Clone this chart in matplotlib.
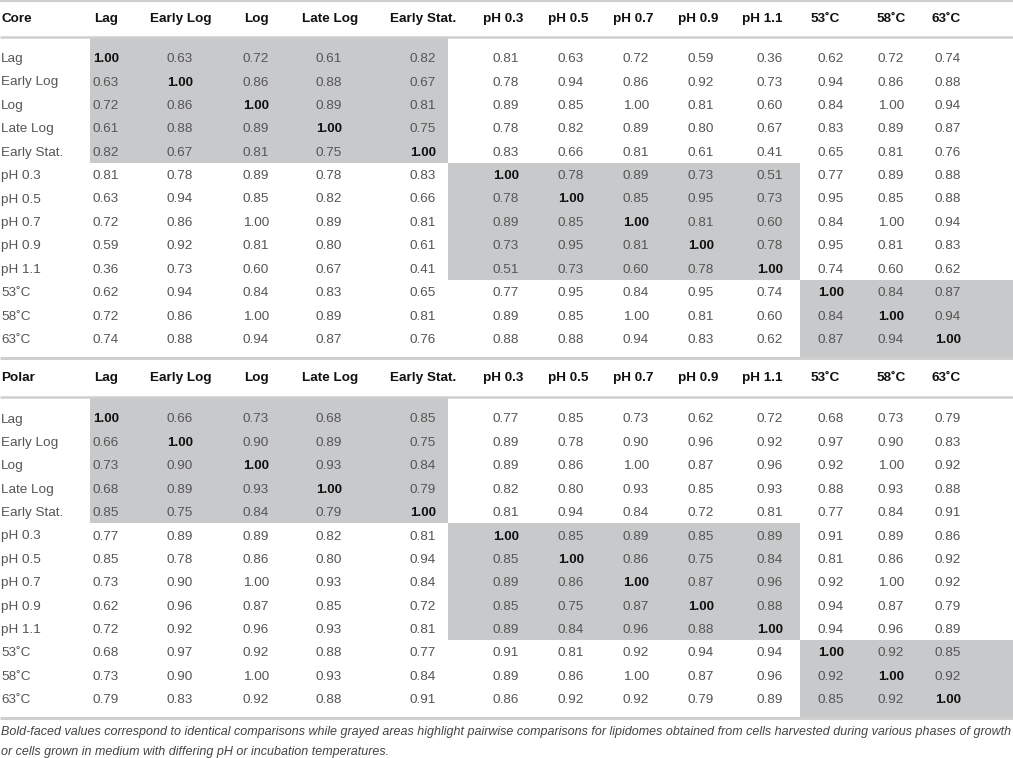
import matplotlib
matplotlib.use("Agg")
import matplotlib.pyplot as plt
from matplotlib.patches import Rectangle

# Table content
row_labels = ["Lag", "Early Log", "Log", "Late Log", "Early Stat.",
              "pH 0.3", "pH 0.5", "pH 0.7", "pH 0.9", "pH 1.1",
              "53˚C", "58˚C", "63˚C"]
col_labels = row_labels
groups = [(0, 5), (5, 10), (10, 13)]

core_values = [
    [1.00, 0.63, 0.72, 0.61, 0.82, 0.81, 0.63, 0.72, 0.59, 0.36, 0.62, 0.72, 0.74],
    [0.63, 1.00, 0.86, 0.88, 0.67, 0.78, 0.94, 0.86, 0.92, 0.73, 0.94, 0.86, 0.88],
    [0.72, 0.86, 1.00, 0.89, 0.81, 0.89, 0.85, 1.00, 0.81, 0.60, 0.84, 1.00, 0.94],
    [0.61, 0.88, 0.89, 1.00, 0.75, 0.78, 0.82, 0.89, 0.80, 0.67, 0.83, 0.89, 0.87],
    [0.82, 0.67, 0.81, 0.75, 1.00, 0.83, 0.66, 0.81, 0.61, 0.41, 0.65, 0.81, 0.76],
    [0.81, 0.78, 0.89, 0.78, 0.83, 1.00, 0.78, 0.89, 0.73, 0.51, 0.77, 0.89, 0.88],
    [0.63, 0.94, 0.85, 0.82, 0.66, 0.78, 1.00, 0.85, 0.95, 0.73, 0.95, 0.85, 0.88],
    [0.72, 0.86, 1.00, 0.89, 0.81, 0.89, 0.85, 1.00, 0.81, 0.60, 0.84, 1.00, 0.94],
    [0.59, 0.92, 0.81, 0.80, 0.61, 0.73, 0.95, 0.81, 1.00, 0.78, 0.95, 0.81, 0.83],
    [0.36, 0.73, 0.60, 0.67, 0.41, 0.51, 0.73, 0.60, 0.78, 1.00, 0.74, 0.60, 0.62],
    [0.62, 0.94, 0.84, 0.83, 0.65, 0.77, 0.95, 0.84, 0.95, 0.74, 1.00, 0.84, 0.87],
    [0.72, 0.86, 1.00, 0.89, 0.81, 0.89, 0.85, 1.00, 0.81, 0.60, 0.84, 1.00, 0.94],
    [0.74, 0.88, 0.94, 0.87, 0.76, 0.88, 0.88, 0.94, 0.83, 0.62, 0.87, 0.94, 1.00],
]

polar_values = [
    [1.00, 0.66, 0.73, 0.68, 0.85, 0.77, 0.85, 0.73, 0.62, 0.72, 0.68, 0.73, 0.79],
    [0.66, 1.00, 0.90, 0.89, 0.75, 0.89, 0.78, 0.90, 0.96, 0.92, 0.97, 0.90, 0.83],
    [0.73, 0.90, 1.00, 0.93, 0.84, 0.89, 0.86, 1.00, 0.87, 0.96, 0.92, 1.00, 0.92],
    [0.68, 0.89, 0.93, 1.00, 0.79, 0.82, 0.80, 0.93, 0.85, 0.93, 0.88, 0.93, 0.88],
    [0.85, 0.75, 0.84, 0.79, 1.00, 0.81, 0.94, 0.84, 0.72, 0.81, 0.77, 0.84, 0.91],
    [0.77, 0.89, 0.89, 0.82, 0.81, 1.00, 0.85, 0.89, 0.85, 0.89, 0.91, 0.89, 0.86],
    [0.85, 0.78, 0.86, 0.80, 0.94, 0.85, 1.00, 0.86, 0.75, 0.84, 0.81, 0.86, 0.92],
    [0.73, 0.90, 1.00, 0.93, 0.84, 0.89, 0.86, 1.00, 0.87, 0.96, 0.92, 1.00, 0.92],
    [0.62, 0.96, 0.87, 0.85, 0.72, 0.85, 0.75, 0.87, 1.00, 0.88, 0.94, 0.87, 0.79],
    [0.72, 0.92, 0.96, 0.93, 0.81, 0.89, 0.84, 0.96, 0.88, 1.00, 0.94, 0.96, 0.89],
    [0.68, 0.97, 0.92, 0.88, 0.77, 0.91, 0.81, 0.92, 0.94, 0.94, 1.00, 0.92, 0.85],
    [0.73, 0.90, 1.00, 0.93, 0.84, 0.89, 0.86, 1.00, 0.87, 0.96, 0.92, 1.00, 0.92],
    [0.79, 0.83, 0.92, 0.88, 0.91, 0.86, 0.92, 0.92, 0.79, 0.89, 0.85, 0.92, 1.00],
]

caption_lines = [
    "Bold-faced values correspond to identical comparisons while grayed areas highlight "
    "pairwise comparisons for lipidomes obtained from cells harvested during various phases of growth",
    "or cells grown in medium with differing pH or incubation temperatures.",
]

# Layout (pixel coordinates)
W, H = 1013, 758
val_x = [106, 180, 256, 329, 423, 506, 571, 636, 701, 770, 831, 891, 948]
head_x = [106, 181, 256, 330, 423, 503, 568, 633, 698, 762, 825, 891, 946]
block_x = [90, 448, 800, W]
row_h = 23.4
FONT = "Liberation Sans"
FS = 9.7
TXT = "#555555"
GRAY = "#c8c9cb"
LINE = "#cfcfcf"

fig = plt.figure(figsize=(W / 100, H / 100), dpi=100)
ax = fig.add_axes([0, 0, 1, 1])
ax.set_xlim(0, W)
ax.set_ylim(H, 0)
ax.axis("off")


def draw_section(title, values, head_y, under_y, first_row_y, bottom_y):
    # gray diagonal blocks
    for k, (a, b) in enumerate(groups):
        top = under_y + 1 if a == 0 else first_row_y + a * row_h - row_h / 2
        bot = bottom_y if b == len(row_labels) else first_row_y + b * row_h - row_h / 2
        ax.add_patch(Rectangle((block_x[k], top), block_x[k + 1] - block_x[k], bot - top,
                               facecolor=GRAY, edgecolor="none", zorder=0))

    # header
    ax.text(1, head_y + 4.8, title, fontsize=FS, fontweight="bold", family=FONT,
            color="#111111", ha="left", va="baseline")
    for j, lab in enumerate(col_labels):
        ax.text(head_x[j], head_y + 4.8, lab, fontsize=FS, fontweight="bold", family=FONT,
                color="#111111", ha="center", va="baseline")
    ax.plot([0, W], [under_y, under_y], color=LINE, lw=1.8, solid_capstyle="butt", zorder=1)

    # body
    for i, lab in enumerate(row_labels):
        y = first_row_y + i * row_h + 4.8
        ax.text(1, y, lab, fontsize=FS, family=FONT, color=TXT, ha="left", va="baseline")
        for j, v in enumerate(values[i]):
            bold = i == j
            ax.text(val_x[j], y, f"{v:.2f}", fontsize=FS, family=FONT,
                    fontweight="bold" if bold else "normal",
                    color="#111111" if bold else TXT, ha="center", va="baseline")


ax.plot([0, W], [1.2, 1.2], color=LINE, lw=1.6, solid_capstyle="butt")
draw_section("Core", core_values, 17, 36.5, 57.3, 357)
ax.plot([0, W], [358, 358], color=LINE, lw=2.2, solid_capstyle="butt", zorder=1)
draw_section("Polar", polar_values, 376, 397, 417.7, 717)
ax.plot([0, W], [718, 718], color=LINE, lw=2.2, solid_capstyle="butt", zorder=1)

for k, line in enumerate(caption_lines):
    ax.text(1, 735.5 + k * 19, line, fontsize=9.0, family=FONT, style="italic",
            color="#444444", ha="left", va="baseline")

fig.savefig("out.png", dpi=100)
